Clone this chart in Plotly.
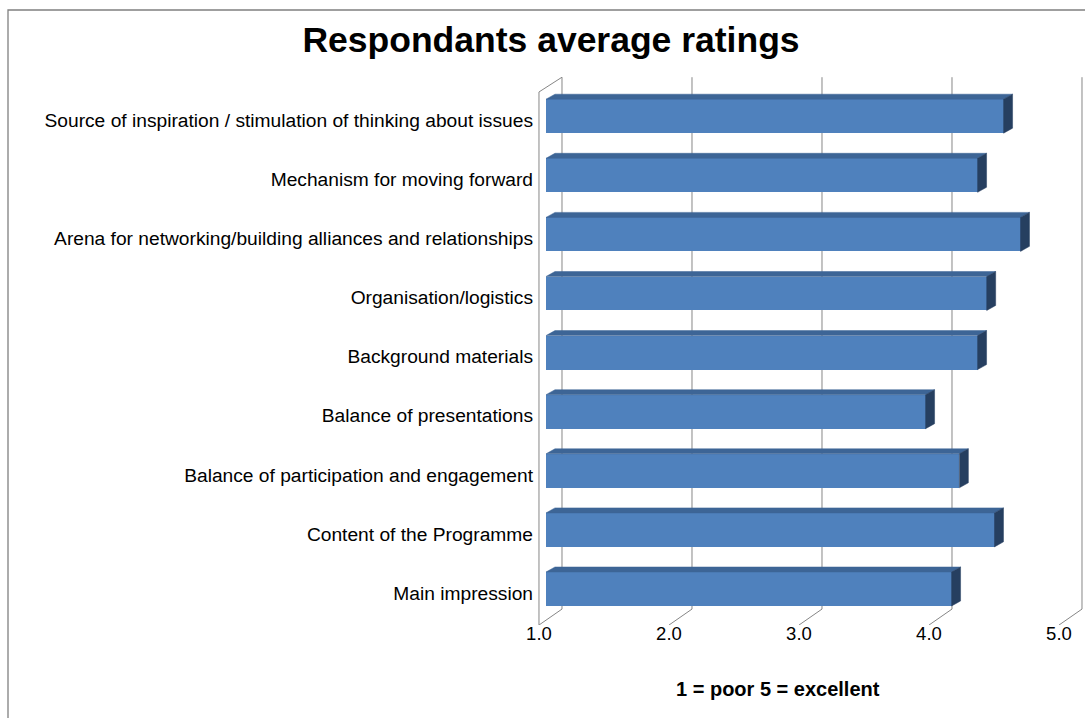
import plotly.graph_objects as go

# ---- data ----
categories = [
    "Main impression",
    "Content of the Programme",
    "Balance of participation and engagement",
    "Balance of presentations",
    "Background materials",
    "Organisation/logistics",
    "Arena for networking/building alliances and relationships",
    "Mechanism for moving forward",
    "Source of inspiration / stimulation of thinking about issues",
]
values = [4.12, 4.45, 4.18, 3.92, 4.32, 4.39, 4.65, 4.32, 4.52]
x_ticks = [1, 2, 3, 4, 5]
x_tick_labels = ["1.0", "2.0", "3.0", "4.0", "5.0"]

# ---- style / 3D-look constants (data units) ----
BASE = 1.0
BAR_W = 0.575
BAR_DX, BAR_DY = 0.069, 0.085           # bar depth offsets
FRONT_DX, BACK_DX = -0.054, 0.123       # floor/wall depth in x
FLOOR_FRONT, FLOOR_BACK = -0.61, -0.34  # floor y front/back
TOP_FRONT, TOP_BACK = 8.41, 8.66        # wall top front/back
LABEL_DY = -0.068

FRONT_C = "#4F81BD"
TOP_C = "#3D6596"
SIDE_C = "#263F60"
GRID_C = "#868686"
FONT = "Liberation Sans, Arial, sans-serif"

W, H = 1085, 718
L, R, T, B = 537, 0, 70, 93

fig = go.Figure()

ys = list(range(len(categories)))

# front faces
fig.add_trace(go.Bar(
    y=ys, x=[v - BASE for v in values], base=BASE, orientation="h",
    width=BAR_W, marker=dict(color=FRONT_C, line=dict(width=0)),
    showlegend=False, hoverinfo="skip"))

# top and side faces
for y, v in zip(ys, values):
    top = y + BAR_W / 2
    bot = y - BAR_W / 2
    fig.add_trace(go.Scatter(
        x=[BASE, v, v + BAR_DX, BASE + BAR_DX, BASE],
        y=[top, top, top + BAR_DY, top + BAR_DY, top],
        fill="toself", fillcolor=TOP_C, mode="lines",
        line=dict(width=0.5, color=TOP_C), showlegend=False, hoverinfo="skip"))
    fig.add_trace(go.Scatter(
        x=[v, v + BAR_DX, v + BAR_DX, v, v],
        y=[bot, bot + BAR_DY, top + BAR_DY, top, bot],
        fill="toself", fillcolor=SIDE_C, mode="lines",
        line=dict(width=0.5, color=SIDE_C), showlegend=False, hoverinfo="skip"))

# back-wall gridlines, floor diagonals, left wall
shapes = []
for t in x_ticks:
    shapes.append(dict(type="line", xref="x", yref="y", layer="below",
                       x0=t + BACK_DX, x1=t + BACK_DX, y0=FLOOR_BACK, y1=TOP_BACK,
                       line=dict(color=GRID_C, width=1)))
    shapes.append(dict(type="line", xref="x", yref="y", layer="below",
                       x0=t + FRONT_DX, x1=t + BACK_DX, y0=FLOOR_FRONT, y1=FLOOR_BACK,
                       line=dict(color=GRID_C, width=1)))
x_first = x_ticks[0]
shapes.append(dict(type="line", xref="x", yref="y", layer="below",
                   x0=x_first + FRONT_DX, x1=x_first + FRONT_DX, y0=FLOOR_FRONT, y1=TOP_FRONT,
                   line=dict(color=GRID_C, width=1)))
shapes.append(dict(type="line", xref="x", yref="y", layer="below",
                   x0=x_first + FRONT_DX, x1=x_first + BACK_DX, y0=TOP_FRONT, y1=TOP_BACK,
                   line=dict(color=GRID_C, width=1)))

# outer chart border (left & top visible)
pw, ph = W - L - R, H - T - B
def px(xp): return (xp - L) / pw
def py(yp): return 1 - (yp - T) / ph
shapes.append(dict(type="rect", xref="paper", yref="paper",
                   x0=px(8), x1=px(W + 10), y0=py(H + 10), y1=py(10),
                   line=dict(color="#808080", width=1.3), fillcolor="rgba(0,0,0,0)"))

px_per_x = 130.0
px_per_y = 59.1
x_min = BASE - (546 - L) / px_per_x
x_max = x_min + pw / px_per_x
y_min = -(H - B - 589) / px_per_y
y_max = y_min + ph / px_per_y

fig.update_layout(
    width=W, height=H,
    margin=dict(l=L, r=R, t=T, b=B),
    paper_bgcolor="white", plot_bgcolor="rgba(0,0,0,0)",
    title=dict(text="<b>Respondants average ratings</b>", x=551 / W, xref="container",
               y=1 - 40 / H, yref="container", xanchor="center", yanchor="middle",
               font=dict(family=FONT, size=35.5, color="black")),
    xaxis=dict(range=[x_min, x_max], showgrid=False, zeroline=False, showline=False,
               tickmode="array", tickvals=[t + FRONT_DX for t in x_ticks],
               ticktext=x_tick_labels, ticks="", ticklabelstandoff=-5,
               tickfont=dict(family=FONT, size=18.5, color="black")),
    yaxis=dict(range=[y_min, y_max], showgrid=False, zeroline=False, showline=False,
               tickmode="array", tickvals=[y + LABEL_DY for y in ys],
               ticktext=categories, ticks="", ticklabelstandoff=3,
               tickfont=dict(family=FONT, size=19.2, color="black")),
    shapes=shapes,
    annotations=[dict(text="<b>1 = poor 5 = excellent</b>", xref="paper", yref="paper",
                      x=px(778), y=py(689), xanchor="center", yanchor="middle",
                      showarrow=False, font=dict(family=FONT, size=20, color="black"))],
    bargap=0,
)

fig.write_html("out.html", config={"displayModeBar": False},
               post_script="document.body.style.margin='0';")
